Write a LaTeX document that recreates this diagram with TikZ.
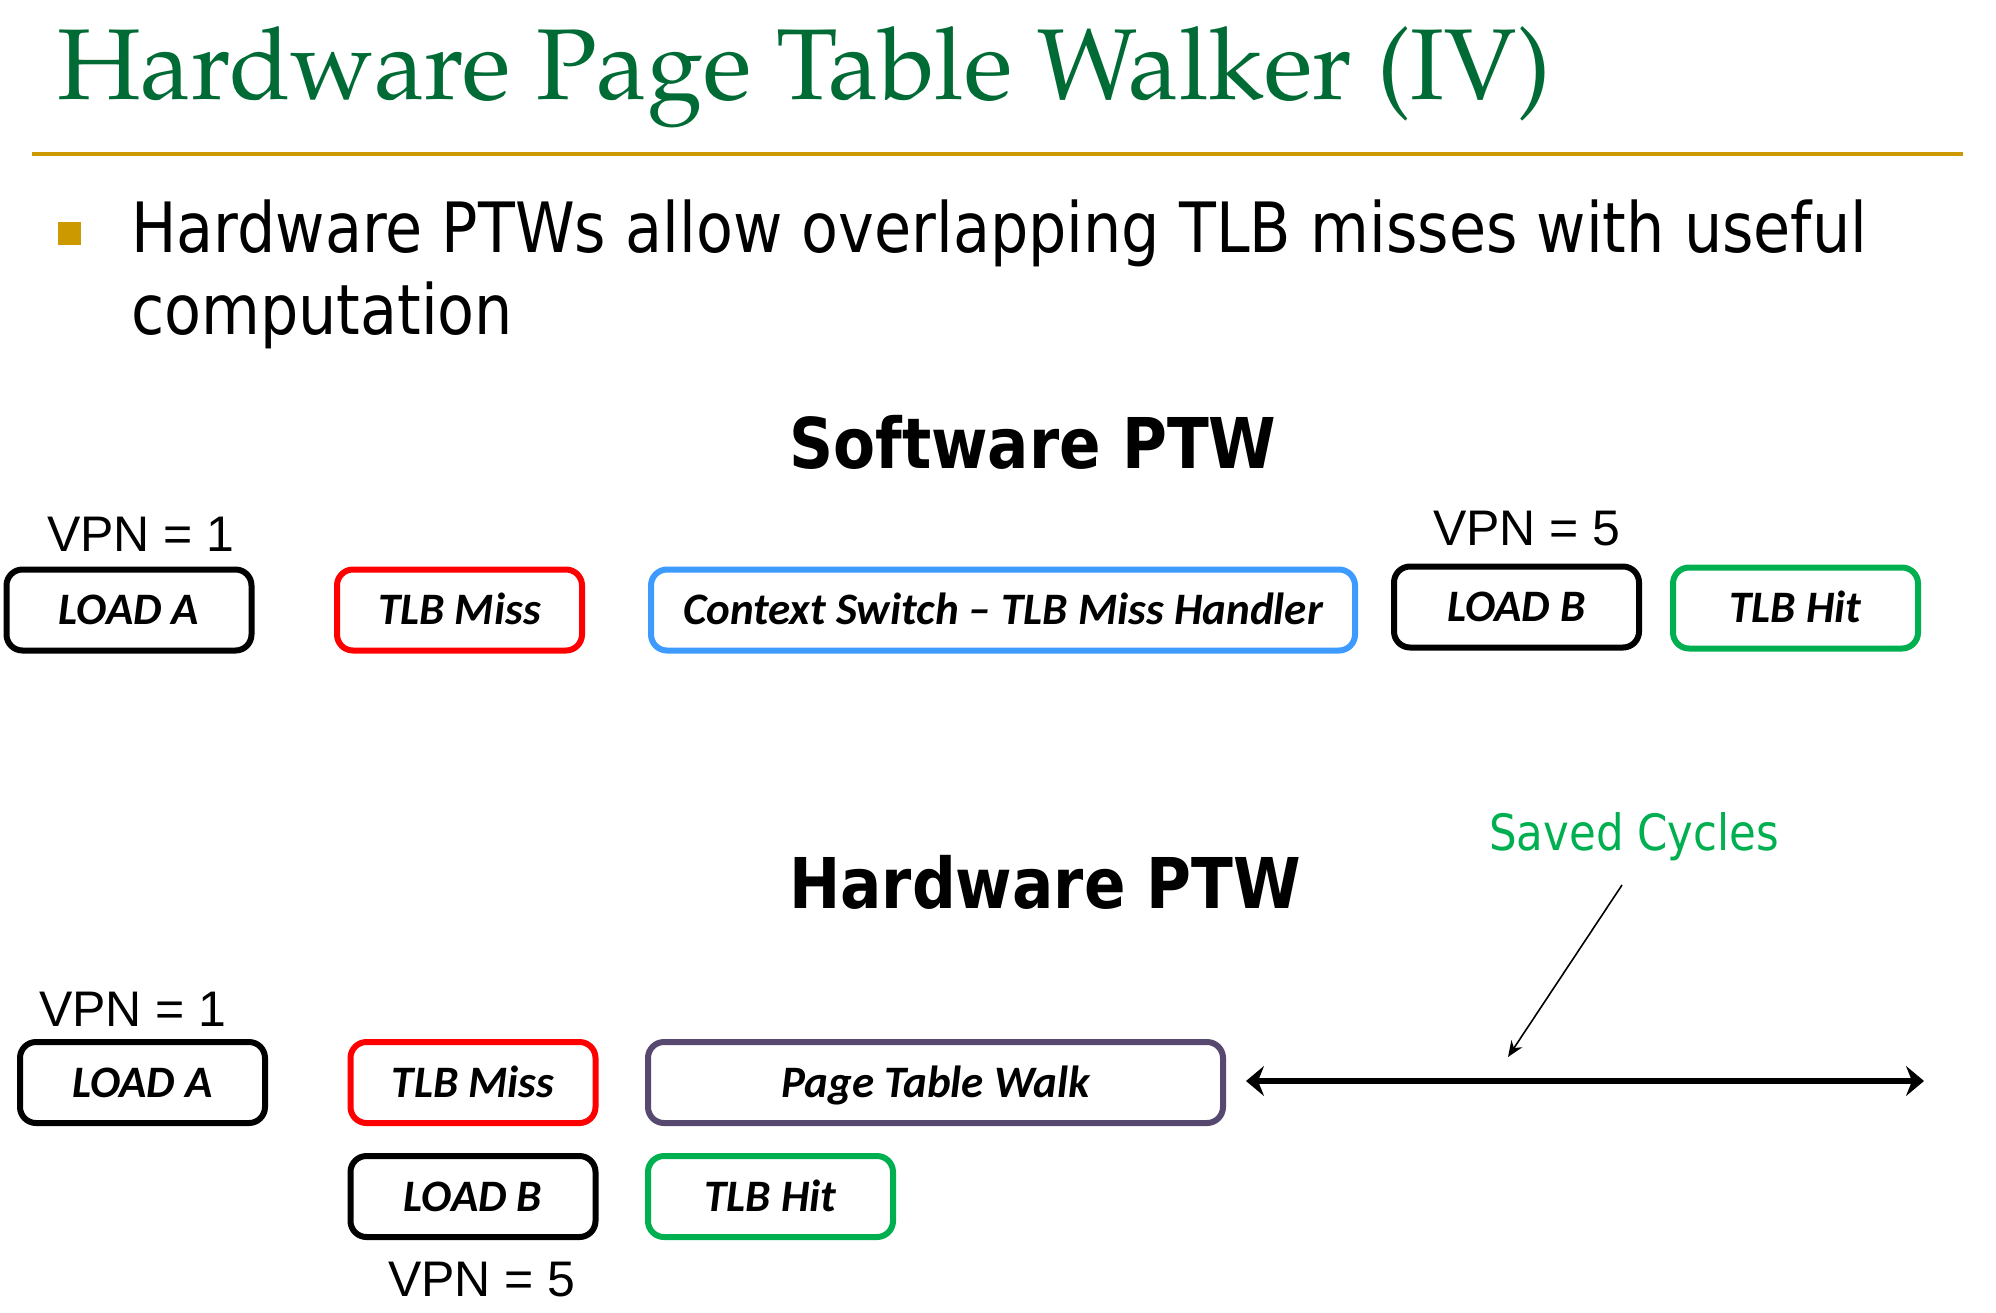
\documentclass[tikz,border=0pt]{standalone}
\usepackage{fontspec}
\setmainfont{Liberation Sans}
\newfontfamily\tahoma{DejaVu Sans}[FakeStretch=0.87]
\newfontfamily\tahomahead{DejaVu Sans}[FakeStretch=0.875]
\newfontfamily\calibri{Carlito}
\newcommand\ttlfont{\fontencoding{OT1}\fontfamily{ppl}\selectfont}
\usetikzlibrary{arrows.meta}
\definecolor{ttlgreen}{HTML}{006B35}
\definecolor{gold}{HTML}{CC9900}
\definecolor{boxred}{HTML}{FF0000}
\definecolor{boxblue}{HTML}{3D9BFF}
\definecolor{boxgreen}{HTML}{00B050}
\definecolor{boxpurple}{HTML}{574870}
\tikzset{
  tbox/.style={draw=#1, line width=6pt, rounded corners=16pt, minimum height=81pt,
    inner sep=0pt, text height=29pt, text depth=0pt,
    font=\calibri\bfseries\itshape\fontsize{45}{54}\selectfont},
  lbl/.style={anchor=base west, inner sep=0pt},
  vpn/.style={lbl, font=\fontsize{50}{60}\selectfont},
  head/.style={lbl, font=\tahomahead\bfseries\fontsize{70}{84}\selectfont},
}
\begin{document}
\begin{tikzpicture}[x=1pt,y=-1pt]
\useasboundingbox[fill=white] (0,0) rectangle (1996,1312);
% title
\node[lbl, text=ttlgreen, font=\ttlfont\fontsize{100.6}{120}\selectfont] (title) at (57,99) {Hardware Page Table Walker (IV)};
\draw[gold, line width=4pt] (32,154) -- (1963,154);
% bullet
\fill[gold] (58,222) rectangle (81,245);
\node[lbl, font=\tahoma\fontsize{69.4}{84}\selectfont] (b1) at (131,252) {Hardware PTWs allow overlapping TLB misses with useful};
\node[lbl, font=\tahoma\fontsize{69.4}{84}\selectfont] (b2) at (131,334) {computation};
% software
\node[head] (sw) at (789,468) {Software PTW};
\node[vpn] (sv1) at (47,551) {VPN = 1};
\node[vpn] (sv5) at (1433,545) {VPN = 5};
\node[tbox=black, minimum width=245pt] (sLA) at (129,610) {LOAD A};
\node[tbox=boxred, minimum width=245pt] (sTM) at (459.5,610) {TLB Miss};
\node[tbox=boxblue, minimum width=704pt] (sCS) at (1003,610) {Context Switch – TLB Miss Handler};
\node[tbox=black, minimum width=245pt] (sLB) at (1516.5,607) {LOAD B};
\node[tbox=boxgreen, minimum width=245pt] (sTH) at (1795.5,608) {TLB Hit};
% hardware
\node[head] (hw) at (789,908) {Hardware PTW};
\node[lbl, text=boxgreen, font=\tahoma\fontsize{50}{60}\selectfont] (saved) at (1489,850) {Saved Cycles};
\node[vpn] (hv1) at (39,1026) {VPN = 1};
\node[vpn] (hv5) at (388,1296) {VPN = 5};
\node[tbox=black, minimum width=245pt] (hLA) at (142.5,1082.5) {LOAD A};
\node[tbox=boxred, minimum width=245pt] (hTM) at (473,1082.5) {TLB Miss};
\node[tbox=boxpurple, minimum width=575pt] (hPTW) at (935.5,1082.5) {Page Table Walk};
\node[tbox=black, minimum width=245pt] (hLB) at (473,1196.5) {LOAD B};
\node[tbox=boxgreen, minimum width=245pt] (hTH) at (770.5,1196.5) {TLB Hit};
% arrows
\coordinate (dL) at (1246,1081);
\coordinate (dR) at (1924,1081);
\coordinate (aS) at (1622,885);
\coordinate (aE) at (1508,1057);
\draw[line width=6pt, {Stealth[length=18pt,width=30pt,inset=6pt]}-{Stealth[length=18pt,width=30pt,inset=6pt]}] (dL) -- (dR);
\draw[line width=1.6pt, -{Stealth[length=16pt,width=13pt]}] (aS) -- (aE);
\end{tikzpicture}
\end{document}
